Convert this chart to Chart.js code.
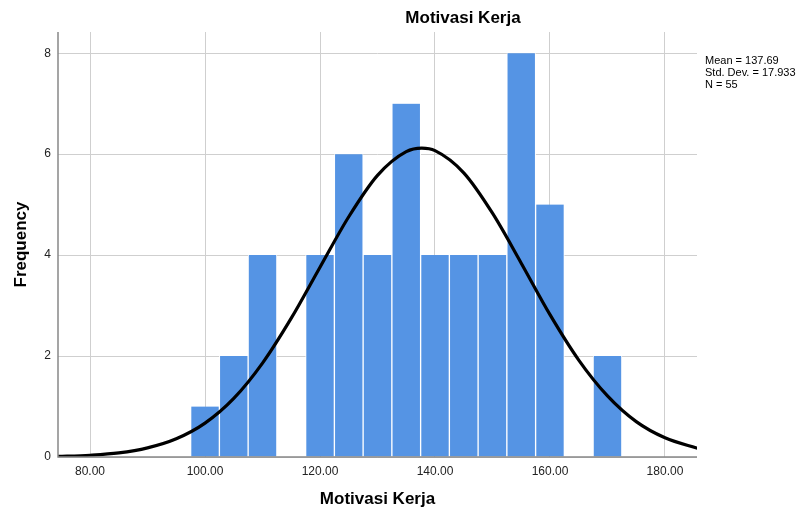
<!DOCTYPE html>
<html>
<head>
<meta charset="utf-8">
<script src="https://cdn.jsdelivr.net/npm/chart.js@4/dist/chart.umd.min.js"></script>
<style>
html,body{margin:0;padding:0;background:#fff;}
#wrap{width:803px;height:510px;position:relative;}
</style>
</head>
<body>
<div id="wrap"><canvas id="c" width="803" height="510"></canvas></div>
<script>
// Histogram bins (bin centers) and frequencies
const binCenters = [100, 105, 110, 115, 120, 125, 130, 135, 140, 145, 150, 155, 160, 165, 170];
const frequencies = [1, 2, 4, 0, 4, 6, 4, 7, 4, 4, 4, 8, 5, 0, 2];
// Normal curve points
const curveX = [74, 80, 85, 90, 95, 100, 105, 110, 115, 120, 125, 130, 135, 137.7, 140, 145, 150, 155, 160, 165, 170, 175, 180, 186];
const curveY = [0.01, 0.035, 0.08, 0.18, 0.36, 0.67, 1.16, 1.86, 2.75, 3.76, 4.76, 5.58, 6.05, 6.12, 6.07, 5.63, 4.83, 3.84, 2.82, 1.92, 1.21, 0.70, 0.38, 0.16];
const xTicks = [80, 100, 120, 140, 160, 180];
const yTicks = [0, 2, 4, 6, 8];
const statLines = ["Mean = 137.69", "Std. Dev. = 17.933", "N = 55"];
const titleText = "Motivasi Kerja";
const xTitle = "Motivasi Kerja";
const yTitle = "Frequency";

const FONT = "'Liberation Sans', Arial, sans-serif";

const overlay = {
  id: 'overlay',
  afterDraw(chart) {
    const ctx = chart.ctx;
    const a = chart.chartArea;
    ctx.save();
    ctx.fillStyle = '#000';
    ctx.font = "bold 17px " + FONT;
    ctx.textAlign = 'center';
    ctx.textBaseline = 'middle';
    ctx.fillText(titleText, 463, 18);
    ctx.font = "11px " + FONT;
    ctx.textAlign = 'left';
    ctx.textBaseline = 'middle';
    statLines.forEach((s, i) => ctx.fillText(s, a.right + 8, 61 + i * 12));
    // axis lines
    ctx.strokeStyle = '#888';
    ctx.lineWidth = 1.5;
    ctx.beginPath();
    ctx.moveTo(a.left, a.top);
    ctx.lineTo(a.left, a.bottom);
    ctx.lineTo(a.right, a.bottom);
    ctx.stroke();
    ctx.restore();
  }
};

new Chart(document.getElementById('c'), {
  data: {
    datasets: [
      {
        type: 'line',
        data: curveX.map((x, i) => ({x: x, y: curveY[i]})),
        borderColor: '#000',
        borderWidth: 3.2,
        pointRadius: 0,
        cubicInterpolationMode: 'monotone',
        fill: false,
        order: 0
      },
      {
        type: 'bar',
        data: binCenters.map((x, i) => ({x: x, y: frequencies[i]})),
        backgroundColor: 'rgb(85,148,228)',
        borderColor: '#ffffff',
        borderWidth: {left: 1, right: 1, top: 0, bottom: 0},
        borderSkipped: false,
        barPercentage: 1,
        categoryPercentage: 1,
        order: 1
      }
    ]
  },
  options: {
    responsive: false,
    animation: false,
    events: [],
    layout: {padding: {left: 0, right: 106, top: 32, bottom: 0}},
    plugins: {legend: {display: false}, tooltip: {enabled: false}, title: {display: false}},
    scales: {
      x: {
        type: 'linear',
        offset: false,
        min: 74.43,
        max: 185.57,
        afterBuildTicks(s) { s.ticks = xTicks.map(v => ({value: v})); },
        afterFit(s) { s.height = 53; },
        ticks: {
          callback: v => Number(v).toFixed(2),
          font: {family: FONT, size: 12},
          color: '#222',
          maxRotation: 0,
          padding: 7
        },
        grid: {color: '#cfcfcf', lineWidth: 1, drawTicks: false, offset: false},
        border: {display: false},
        title: {display: true, text: xTitle, font: {family: FONT, size: 17, weight: 'bold'}, color: '#000', padding: {top: 11, bottom: 0}}
      },
      y: {
        min: 0,
        max: 8.42,
        afterBuildTicks(s) { s.ticks = yTicks.map(v => ({value: v})); },
        afterFit(s) { s.width = 58; },
        ticks: {
          font: {family: FONT, size: 12},
          color: '#222',
          padding: 7
        },
        grid: {color: '#cfcfcf', lineWidth: 1, drawTicks: false},
        border: {display: false},
        title: {display: true, text: yTitle, font: {family: FONT, size: 17, weight: 'bold'}, color: '#000', padding: {top: 11, bottom: 6}}
      }
    }
  },
  plugins: [overlay]
});
</script>
</body>
</html>
